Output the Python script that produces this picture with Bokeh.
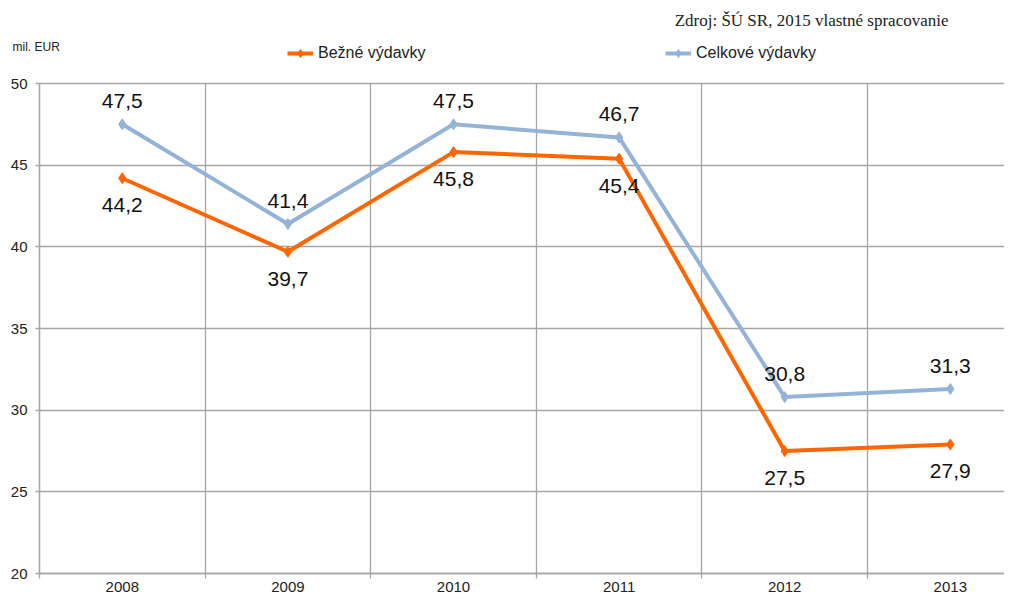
from bokeh.plotting import figure
from bokeh.models import FixedTicker, Legend, LegendItem, Label
from bokeh.embed import file_html
from bokeh.resources import INLINE
from bokeh.core.properties import value

years = [2008, 2009, 2010, 2011, 2012, 2013]
bezne = [44.2, 39.7, 45.8, 45.4, 27.5, 27.9]
celkove = [47.5, 41.4, 47.5, 46.7, 30.8, 31.3]
y_ticks = [20, 25, 30, 35, 40, 45, 50]
series_names = ["Bežné výdavky", "Celkové výdavky"]
unit_text = "mil. EUR"
source_text = "Zdroj: ŠÚ SR, 2015 vlastné spracovanie"

ORANGE = "#FF6600"
BLUE = "#95B3D7"
GRID = "#a6a6a6"
FONT = "Liberation Sans"

def fmt(v):
    return f"{v:.1f}".replace(".", ",")

# layout (pixels)
FW, FH = 1004, 596
PLOT_LEFT = 39          # pixel of the left plot edge
PLOT_TOP = 83           # pixel of the top value line
PLOT_BOTTOM = 573       # pixel of the bottom value line
CAT_PX = 165.6          # pixel width of one category
y_px = (PLOT_BOTTOM - PLOT_TOP) / (y_ticks[-1] - y_ticks[0])

x0 = years[0] - 0.5
x_start = x0 - PLOT_LEFT / CAT_PX
x_end = x0 + (FW - PLOT_LEFT) / CAT_PX
y_end = y_ticks[-1] + PLOT_TOP / y_px
y_start = y_ticks[0] - (FH - PLOT_BOTTOM) / y_px

boundaries = [y - 0.5 for y in years] + [years[-1] + 0.5]

p = figure(frame_width=FW, frame_height=FH,
           min_border_left=0, min_border_top=0, min_border_right=0, min_border_bottom=0,
           x_range=(x_start, x_end), y_range=(y_start, y_end),
           output_backend="svg", toolbar_location=None)
p.outline_line_color = None
p.background_fill_color = "white"
p.border_fill_color = "white"

p.xgrid.ticker = FixedTicker(ticks=boundaries)
p.ygrid.ticker = FixedTicker(ticks=y_ticks)
p.xgrid.cross_bounds = (y_ticks[0], y_ticks[-1])
p.ygrid.cross_bounds = (boundaries[0], boundaries[-1])
for g in (p.xgrid, p.ygrid):
    g.grid_line_color = GRID
    g.grid_line_width = 1.3

xa = p.xaxis[0]
xa.fixed_location = y_ticks[0]
xa.ticker = FixedTicker(ticks=years, minor_ticks=boundaries)
xa.bounds = (boundaries[0], boundaries[-1])
xa.major_tick_out = 0
xa.major_tick_in = 0
xa.minor_tick_out = 5
xa.minor_tick_in = 0
xa.minor_tick_line_color = GRID
xa.minor_tick_line_width = 1.3
xa.axis_line_color = GRID
xa.axis_line_width = 1.3
xa.major_label_standoff = 3
xa.major_label_text_font = FONT
xa.major_label_text_font_size = "15px"
xa.major_label_text_color = "#222222"

ya = p.yaxis[0]
ya.fixed_location = boundaries[0]
ya.bounds = (y_ticks[0], y_ticks[-1])
ya.ticker = FixedTicker(ticks=y_ticks)
ya.major_tick_out = 4
ya.major_tick_in = 0
ya.major_tick_line_color = GRID
ya.major_tick_line_width = 1.3
ya.minor_tick_line_color = None
ya.axis_line_color = GRID
ya.axis_line_width = 1.3
ya.major_label_standoff = 8
ya.major_label_text_font = FONT
ya.major_label_text_font_size = "15px"
ya.major_label_text_color = "#222222"

lb = p.line(years, bezne, line_color=ORANGE, line_width=4)
sb = p.scatter(years, bezne, marker="diamond", size=11, fill_color=ORANGE, line_color=ORANGE)
lc = p.line(years, celkove, line_color=BLUE, line_width=4)
sc = p.scatter(years, celkove, marker="diamond", size=11, fill_color=BLUE, line_color=BLUE)

p.text(x=years, y=celkove, text=[fmt(v) for v in celkove], text_align="center",
       text_baseline="middle", y_offset=-23, text_font=value(FONT),
       text_font_size="21px", text_color="#111111")
p.text(x=years, y=bezne, text=[fmt(v) for v in bezne], text_align="center",
       text_baseline="middle", y_offset=27, text_font=value(FONT),
       text_font_size="21px", text_color="#111111")

legend_y = FH - 63
for name, rends, lx in ((series_names[0], [lb, sb], 287), (series_names[1], [lc, sc], 665)):
    lg = Legend(items=[LegendItem(label=name, renderers=rends)],
                orientation="horizontal", location=(lx, legend_y),
                padding=0, margin=0, border_line_color=None, background_fill_alpha=0,
                label_text_font=FONT, label_text_font_size="16px", label_text_color="#222222",
                glyph_width=26, glyph_height=20, label_height=20, label_standoff=5)
    p.add_layout(lg)

p.add_layout(Label(x=12, y=FH - 46, x_units="screen", y_units="screen", text=unit_text,
                   text_font=FONT, text_font_size="12px", text_baseline="middle",
                   text_color="#222222"))
p.add_layout(Label(x=948, y=FH - 20, x_units="screen", y_units="screen", text=source_text,
                   text_font="Liberation Serif", text_font_size="17px", text_baseline="middle",
                   text_align="right", text_color="#222222"))

open("out.html", "w").write(file_html(p, INLINE))
